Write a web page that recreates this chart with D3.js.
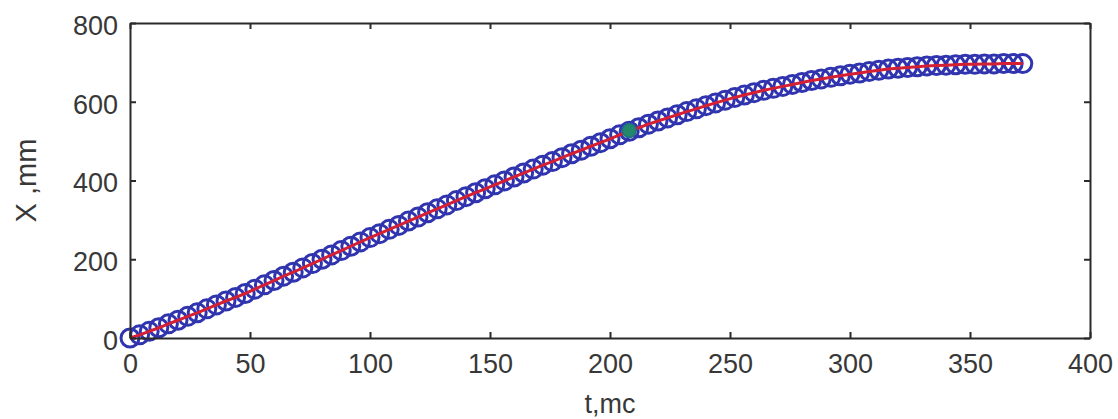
<!DOCTYPE html>
<html lang="en">
<head>
    <meta charset="UTF-8">
    <title>X(t)</title>
    <script src="https://d3js.org/d3.v7.min.js"></script>
    <style>
        body { margin: 0; background: #fff; }
        .axis text { font-family: "Liberation Sans", Arial, sans-serif; font-size: 27px; fill: #383838; }
        .axis path, .axis line { stroke: #2a2a2a; stroke-width: 2; }
    </style>
</head>
<body>
    <div id="chart"></div>
    <script>
        // time, ms
        const tValues = [0, 4, 8, 12, 16, 20, 24, 28, 32, 36, 40, 44, 48, 52, 56, 60, 64, 68, 72, 76,
            80, 84, 88, 92, 96, 100, 104, 108, 112, 116, 120, 124, 128, 132, 136, 140, 144, 148, 152, 156,
            160, 164, 168, 172, 176, 180, 184, 188, 192, 196, 200, 204, 208, 212, 216, 220, 224, 228, 232, 236,
            240, 244, 248, 252, 256, 260, 264, 268, 272, 276, 280, 284, 288, 292, 296, 300, 304, 308, 312, 316,
            320, 324, 328, 332, 336, 340, 344, 348, 352, 356, 360, 364, 368, 372];
        // displacement, mm
        const xValues = [0, 8, 17, 26, 36, 45, 55, 64, 74, 84, 94, 103, 113, 124, 135, 146, 157, 167, 178, 189,
            200, 211, 222, 233, 244, 255, 265, 276, 286, 297, 307, 318, 328, 338, 349, 359, 369, 379, 389, 399,
            409, 419, 429, 439, 448, 458, 468, 477, 487, 496, 506, 516, 525, 534, 543, 551, 559, 567, 575, 582,
            590, 597, 604, 611, 617, 623, 629, 634, 639, 644, 649, 654, 658, 662, 666, 670, 673, 677, 680, 683,
            685, 687, 689, 691, 692, 693, 694, 695, 695, 696, 696, 697, 697, 697];
        // highlighted point
        const markT = [208];
        const markX = [527];

        const xTicks = [0, 50, 100, 150, 200, 250, 300, 350, 400];
        const yTicks = [0, 200, 400, 600, 800];

        const data = tValues.map((t, i) => ({ t: t, x: xValues[i] }));
        const marks = markT.map((t, i) => ({ t: t, x: markX[i] }));

        const margin = { top: 23, right: 28, bottom: 81, left: 130 };
        const width = 1118 - margin.left - margin.right;
        const height = 419 - margin.top - margin.bottom;

        const x = d3.scaleLinear().domain([0, 400]).range([0, width]);
        const y = d3.scaleLinear().domain([0, 800]).range([height, 0]);

        const svg = d3.select("#chart")
            .append("svg")
            .attr("width", width + margin.left + margin.right)
            .attr("height", height + margin.top + margin.bottom)
            .append("g")
            .attr("transform", `translate(${margin.left},${margin.top})`);

        // data: open circles, then the red line through them
        svg.append("g")
            .selectAll("circle")
            .data(data)
            .join("circle")
            .attr("cx", d => x(d.t))
            .attr("cy", d => y(d.x))
            .attr("r", 9)
            .attr("fill", "none")
            .attr("stroke", "#3034ae")
            .attr("stroke-width", 3);

        const line = d3.line()
            .x(d => x(d.t))
            .y(d => y(d.x));

        svg.append("path")
            .datum(data)
            .attr("fill", "none")
            .attr("stroke", "#d51f33")
            .attr("stroke-width", 3)
            .attr("d", line);

        svg.append("g")
            .selectAll("circle")
            .data(marks)
            .join("circle")
            .attr("cx", d => x(d.t))
            .attr("cy", d => y(d.x))
            .attr("r", 7)
            .attr("fill", "#23876a")
            .attr("stroke", "#1f6e8a")
            .attr("stroke-width", 1.5);

        // box axes, ticks inside
        const bottom = svg.append("g")
            .attr("class", "axis")
            .attr("transform", `translate(0,${height})`)
            .call(d3.axisBottom(x).tickValues(xTicks).tickSizeInner(-6).tickSizeOuter(0).tickPadding(16));
        bottom.selectAll("text").attr("dy", "0.72em");

        const left = svg.append("g")
            .attr("class", "axis")
            .call(d3.axisLeft(y).tickValues(yTicks).tickSizeInner(-6).tickSizeOuter(0).tickPadding(12));
        left.selectAll("text").attr("dy", "0.42em");

        svg.append("g")
            .attr("class", "axis")
            .call(d3.axisTop(x).tickValues(xTicks).tickSizeInner(-6).tickSizeOuter(0).tickFormat(""));

        svg.append("g")
            .attr("class", "axis")
            .attr("transform", `translate(${width},0)`)
            .call(d3.axisRight(y).tickValues(yTicks).tickSizeInner(-6).tickSizeOuter(0).tickFormat(""));

        // axis titles
        svg.append("text")
            .attr("x", x(200))
            .attr("y", height + 75)
            .attr("text-anchor", "middle")
            .attr("font-family", "Liberation Sans, Arial, sans-serif")
            .attr("font-size", 27)
            .attr("fill", "#383838")
            .text("t,mc");

        svg.append("text")
            .attr("transform", `translate(${-94},${y(400)}) rotate(-90)`)
            .attr("text-anchor", "middle")
            .attr("font-family", "Liberation Sans, Arial, sans-serif")
            .attr("font-size", 29)
            .attr("fill", "#383838")
            .text("X ,mm");
    </script>
</body>
</html>
